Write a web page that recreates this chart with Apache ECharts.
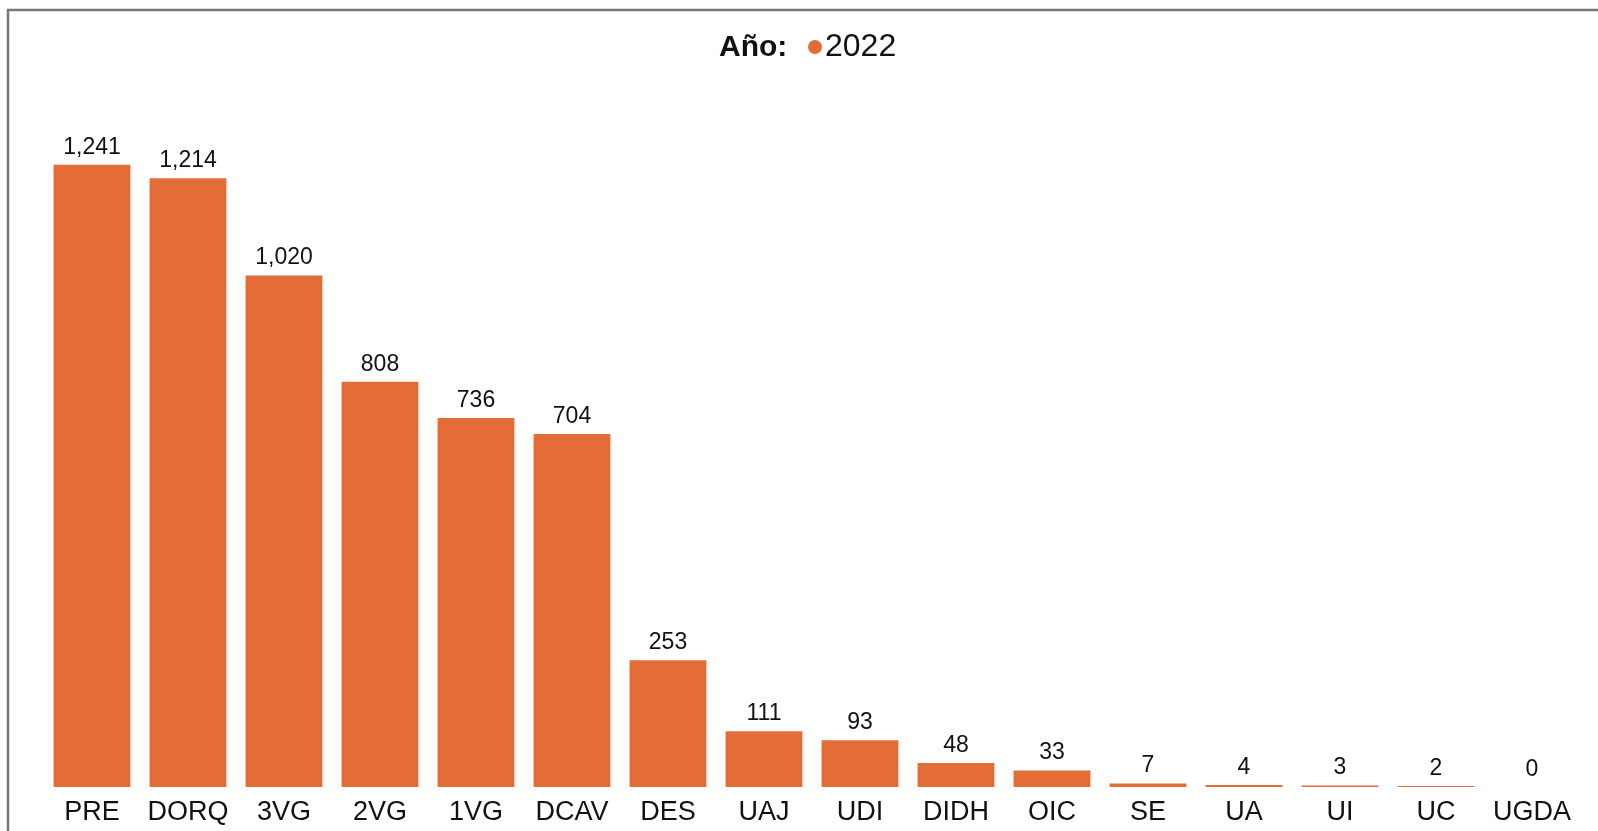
<!DOCTYPE html>
<html>
<head>
<meta charset="utf-8">
<script src="https://cdn.jsdelivr.net/npm/echarts@6/dist/echarts.min.js"></script>
<style>
html,body{margin:0;padding:0;background:#fff;}
#chart{width:1598px;height:831px;}
</style>
</head>
<body>
<div id="chart"></div>
<script>
const categories = ["PRE","DORQ","3VG","2VG","1VG","DCAV","DES","UAJ","UDI","DIDH","OIC","SE","UA","UI","UC","UGDA"];
const values2022 = [1241,1214,1020,808,736,704,253,111,93,48,33,7,4,3,2,0];
const seriesName = "2022";
const legendTitle = "Año:";

const FONT = "'Liberation Sans', Arial, sans-serif";
const chart = echarts.init(document.getElementById('chart'), null, {renderer:'canvas'});
chart.setOption({
  animation:false,
  backgroundColor:'#fff',
  title:{
    text:legendTitle,
    left:714, top:28,
    textStyle:{fontFamily:FONT,fontSize:30,fontWeight:'bold',color:'#111'}
  },
  legend:{
    data:[seriesName],
    left:803, top:26,
    icon:'circle',
    itemWidth:14, itemHeight:14,
    textStyle:{fontFamily:FONT,fontSize:32,color:'#111',padding:[0,0,0,-2]}
  },
  graphic:[{
    type:'polyline',
    shape:{points:[[8,831],[8,10],[1598,10]]},
    style:{stroke:'#777',lineWidth:2.5,fill:null}
  }],
  grid:{left:44,right:18,top:85,bottom:44,containLabel:false},
  xAxis:{
    type:'category',
    data:categories,
    axisLine:{show:false},
    axisTick:{show:false},
    axisLabel:{fontFamily:FONT,fontSize:27,color:'#111',margin:12,interval:0}
  },
  yAxis:{
    type:'value',
    min:0,max:1400,
    show:false,
    splitLine:{show:false}
  },
  series:[{
    name:seriesName,
    type:'bar',
    data:values2022,
    barCategoryGap:'20%',
    itemStyle:{color:'#E46C37'},
    label:{
      show:true,position:'top',distance:6,
      fontFamily:FONT,fontSize:23,color:'#111',
      formatter:p=>p.value.toLocaleString('en-US')
    }
  }]
});
</script>
</body>
</html>
